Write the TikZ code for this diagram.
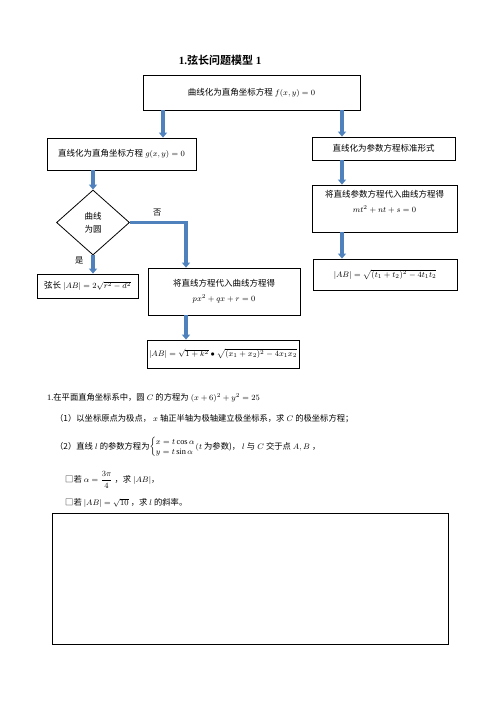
\documentclass[tikz,border=0pt]{standalone}
\usepackage{amsmath}
\usepackage{fontspec}
\setmainfont{Liberation Serif}
\newfontfamily\cjk{Noto Sans CJK SC}[BoldFont={Noto Sans CJK SC Bold}]
\usetikzlibrary{arrows.meta,shapes.geometric}
\definecolor{arrblue}{RGB}{79,129,189}
\newcommand{\zh}[1]{{\cjk #1}}
\begin{document}
\begin{tikzpicture}[
        x=1pt, y=-1pt,
        box/.style={draw, line width=0.8pt, inner sep=2pt, align=center, font=\fontsize{8.5}{10}\selectfont},
        dia/.style={box, diamond, inner sep=0pt, minimum width=73pt, minimum height=65pt},
        txt/.style={anchor=west, inner sep=0pt, font=\fontsize{8.3}{10}\selectfont},
        barr/.style={-{Triangle[length=5pt,width=8pt]}, line width=3.5pt, arrblue}
    ]
        \useasboundingbox (0,0) rectangle (496,702);
        % Title
        \node[font=\fontsize{11}{13}\selectfont\bfseries] (title) at (220,60) {1.\zh{弦长问题模型} 1};

        % Flow chart
        \node[box, minimum width=217pt, minimum height=35pt] (curve) at (251.5,92.5) {\zh{曲线化为直角坐标方程} $f(x,y)=0$};
        \node[box, minimum width=149pt, minimum height=32pt] (line) at (121.5,154) {\zh{直线化为直角坐标方程} $g(x,y)=0$};
        \node[box, minimum width=143pt, minimum height=23pt] (param) at (383.5,148.5) {\zh{直线化为参数方程标准形式}};
        \node[dia] (circ) at (93,222.5) {\zh{曲线}\\[3pt]\zh{为圆}};
        \node[box, minimum width=101pt, minimum height=24pt] (chord) at (87.5,286) {\zh{弦长} $|AB|=2\sqrt{r^2-d^2}$};
        \node[box, minimum width=152pt, minimum height=47pt] (subst) at (224,291.5) {\zh{将直线方程代入曲线方程得}\\[5pt]$px^2+qx+r=0$};
        \node[box, minimum width=150pt, minimum height=28pt] (abx) at (223,354) {$|AB|=\sqrt{1+k^2}\bullet\sqrt{(x_1+x_2)^2-4x_1x_2}$};
        \node[box, minimum width=145pt, minimum height=47pt] (psubst) at (384.5,208.5) {\zh{将直线参数方程代入曲线方程得}\\[5pt]$mt^2+nt+s=0$\\[4pt]};
        \node[box, minimum width=144pt, minimum height=31pt] (abt) at (385,274.5) {$|AB|=\sqrt{(t_1+t_2)^2-4t_1t_2}$};

        \coordinate (xl) at (163,0);
        \coordinate (xr) at (342,0);
        \coordinate (xn) at (186,0);

        \draw[barr] (curve.south -| xl) -- (line.north -| xl);
        \draw[barr] (curve.south -| xr) -- (param.north -| xr);
        \draw[barr] (line.south -| circ) -- (circ.north);
        \draw[barr] (circ.south) -- (chord.north -| circ);
        \draw[barr] (circ.east) -| (subst.north -| xn);
        \draw[barr] (subst.south -| xn) -- (abx.north -| xn);
        \draw[barr] (param.south -| xr) -- (psubst.north -| xr);
        \draw[barr] (psubst.south -| xr) -- (abt.north -| xr);

        \node[txt] (no) at (153,213) {\zh{否}};
        \node[txt] (yes) at (75,261) {\zh{是}};

        % Problem
        \node[txt] (q) at (47,398) {1.\zh{在平面直角坐标系中，圆} $C$ \zh{的方程为} $(x+6)^2+y^2=25$};
        \node[txt] (q1) at (55,419) {\zh{（1）以坐标原点为极点，} $x$ \zh{轴正半轴为极轴建立极坐标系，求} $C$ \zh{的极坐标方程；}};
        \node[txt] (q2) at (55,447) {\zh{（2）直线} $l$ \zh{的参数方程为}$\left\{\begin{array}{@{}l@{}}x=t\cos\alpha\\ y=t\sin\alpha\end{array}\right.$$(t$ \zh{为参数)，} $l$ \zh{与} $C$ \zh{交于点} $A,B$ \zh{，}};
        \node[txt] (q21) at (65,480) {\zh{□若} $\alpha=\dfrac{3\pi}{4}$ \zh{，求} $|AB|$\zh{，}};
        \node[txt] (q22) at (65,503) {\zh{□若} $|AB|=\sqrt{10}$ \zh{，求} $l$ \zh{的斜率。}};

        % Answer box
        \node[box, minimum width=396pt, minimum height=131pt] (ans) at (250,578.5) {};
    \end{tikzpicture}
\end{document}
